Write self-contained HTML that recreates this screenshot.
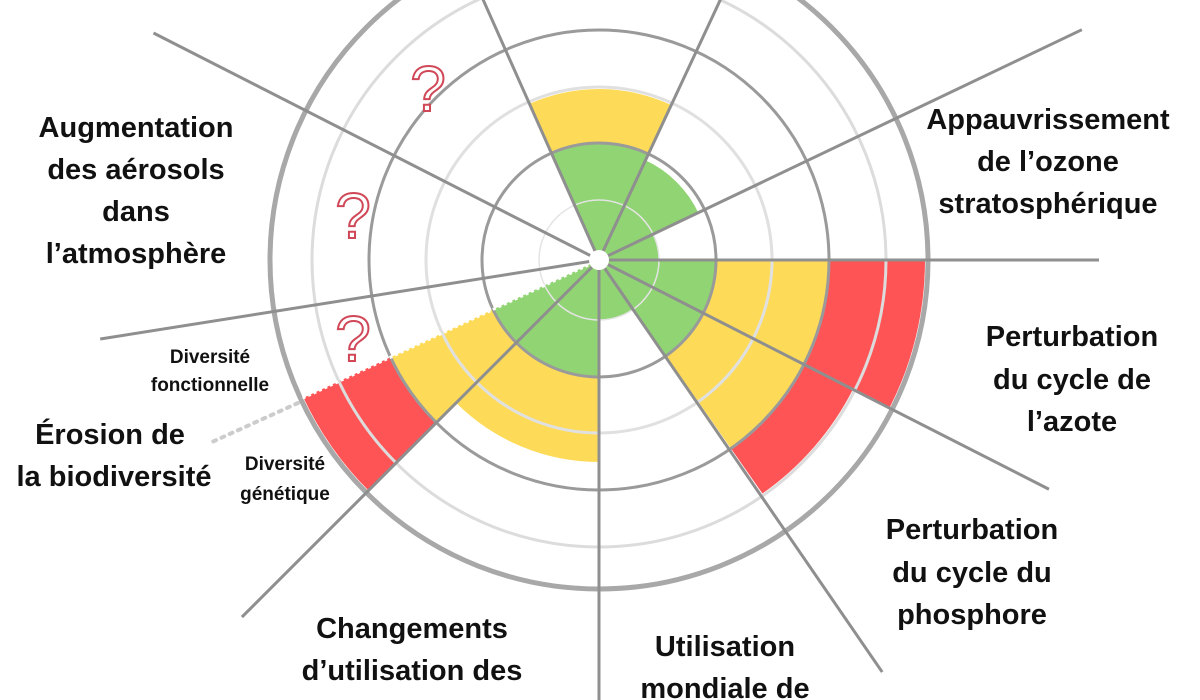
<!DOCTYPE html>
<html><head><meta charset="utf-8"><style>
html,body{margin:0;padding:0;background:#fff;width:1200px;height:700px;overflow:hidden}
svg{display:block}
.t{font-family:"Liberation Sans",sans-serif;font-weight:bold;font-size:29px;fill:#111;text-anchor:middle}
.s{font-family:"Liberation Sans",sans-serif;font-weight:bold;font-size:19px;fill:#111;text-anchor:middle}
.q{font-family:"Liberation Sans",sans-serif;font-size:64px;fill:#fff;stroke:#d04858;stroke-width:2;text-anchor:middle}
</style></head><body>
<svg id="s" width="1200" height="700" viewBox="0 0 1200 700">
<g id="fills"></g>
<g id="circ"></g>
<g id="rad"></g>
<circle cx="599" cy="260" r="10" fill="#fff"/>
<text class="q" x="428" y="111">?</text>
<text class="q" x="353" y="238">?</text>
<text class="q" x="353" y="361">?</text>
<g class="t">
<text x="136" y="137">Augmentation</text>
<text x="136" y="179">des aérosols</text>
<text x="136" y="221">dans</text>
<text x="136" y="263">l’atmosphère</text>
<text x="1048" y="129">Appauvrissement</text>
<text x="1048" y="171">de l’ozone</text>
<text x="1048" y="213">stratosphérique</text>
<text x="1072" y="346">Perturbation</text>
<text x="1072" y="389">du cycle de</text>
<text x="1072" y="431">l’azote</text>
<text x="972" y="539">Perturbation</text>
<text x="972" y="582">du cycle du</text>
<text x="972" y="624">phosphore</text>
<text x="725" y="656">Utilisation</text>
<text x="725" y="698">mondiale de</text>
<text x="412" y="638">Changements</text>
<text x="412" y="680">d’utilisation des</text>
<text x="110" y="444">Érosion de</text>
<text x="114" y="486">la biodiversité</text>
</g>
<g class="s">
<text x="210" y="363">Diversité</text>
<text x="210" y="391">fonctionnelle</text>
<text x="285" y="470">Diversité</text>
<text x="285" y="500">génétique</text>
</g>
<line x1="298" y1="403" x2="212" y2="442" stroke="#ccc" stroke-width="4" stroke-dasharray="3 6" stroke-linecap="round"/>
</svg>
<script>
var cx=599,cy=260,NS="http://www.w3.org/2000/svg";
function P(r,a){a=a*Math.PI/180;return [cx+r*Math.cos(a),cy+r*Math.sin(a)];}
function sec(r1,r2,a1,a2,c){var p1=P(r2,a1),p2=P(r2,a2),p3=P(r1,a2),p4=P(r1,a1);
var d="M"+p1+" A"+r2+","+r2+" 0 0 1 "+p2+" L"+p3;
if(r1>0)d+=" A"+r1+","+r1+" 0 0 0 "+p4;else d+=" L"+cx+","+cy;d+="Z";
var e=document.createElementNS(NS,"path");e.setAttribute("d",d);e.setAttribute("fill",c);document.getElementById("fills").appendChild(e);}
var G="#90d473",Y="#fddb58",R="#fe5456";
sec(0,117,-114,-65,G);sec(117,171,-114,-65,Y);
sec(0,110,-65,-25,G);
sec(0,60,-25,0,G);
sec(0,117,0,27,G);sec(117,230,0,27,Y);sec(230,326,0,27,R);
sec(0,117,27,55,G);sec(117,230,27,55,Y);sec(230,285,27,55,R);
sec(0,60,55,90,G);
sec(0,117,90,135,G);sec(117,202,90,135,Y);
sec(0,117,135,155,G);sec(117,230,135,155,Y);sec(230,326,135,155,R);
var circ=[[60,"#e4e4e4",1.5],[117,"#9a9a9a",3],[173,"#e0e0e0",3],[230,"#9a9a9a",3],[287,"#dcdcdc",3],[329,"#a8a8a8",5]];
circ.forEach(function(c){var e=document.createElementNS(NS,"circle");e.setAttribute("cx",cx);e.setAttribute("cy",cy);e.setAttribute("r",c[0]);e.setAttribute("fill","none");e.setAttribute("stroke",c[1]);e.setAttribute("stroke-width",c[2]);document.getElementById("circ").appendChild(e);});
var rad=[[-114,290],[-65,290],[-25.5,535],[0,500],[27,505],[55.5,500],[90,450],[135,505],[171,505],[207,500]];
rad.forEach(function(r){var p=P(r[1],r[0]);var e=document.createElementNS(NS,"line");e.setAttribute("x1",cx);e.setAttribute("y1",cy);e.setAttribute("x2",p[0]);e.setAttribute("y2",p[1]);e.setAttribute("stroke","#8f8f8f");e.setAttribute("stroke-width",3);document.getElementById("rad").appendChild(e);});
var p=P(329,155);var e=document.createElementNS(NS,"line");e.setAttribute("x1",cx);e.setAttribute("y1",cy);e.setAttribute("x2",p[0]);e.setAttribute("y2",p[1]);e.setAttribute("stroke","#fff");e.setAttribute("stroke-width",3);e.setAttribute("stroke-dasharray","3 3");document.getElementById("rad").appendChild(e);
</script>
</body></html>
